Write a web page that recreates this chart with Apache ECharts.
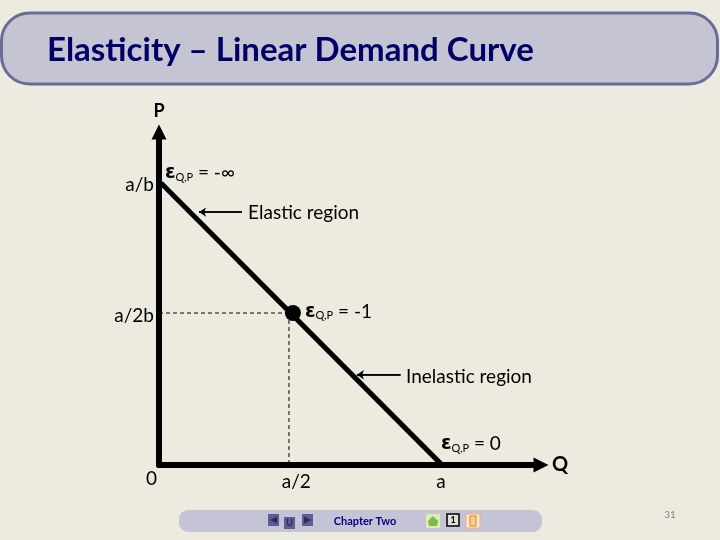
<!DOCTYPE html>
<html lang="en">
<head>
    <meta charset="UTF-8">
    <title>Elasticity</title>
    <script src="https://cdn.jsdelivr.net/npm/echarts@6/dist/echarts.min.js"></script>
    <style>
        html,body{margin:0;padding:0;background:#edebe0;}
        #main{width:720px;height:540px;}
    </style>
</head>
<body>
<div id="main"></div>
<script>
    var FONT='Lato';
    var titleText='Elasticity – Linear Demand Curve';
    var footerText='Chapter Two';
    var pageNumber='31';

    //x: 1 = a, y: 1 = a/b
    var demandCurve=[[0.007,1],[1,0.004]];
    var midPoint=[0.475,0.539];
    var dashToP=[[0,0.539],[0.475,0.539]];
    var dashToQ=[[0.461,0.539],[0.461,0]];
    var xTickValues=[0.487,1];
    var xTickLabels=['a/2','a'];
    var yTickValues=[0.993,0.529];
    var yTickLabels=['a/b','a/2b'];
    var elasticArrow=[[0.294,0.897],[0.142,0.897]];
    var inelasticArrow=[[0.857,0.32],[0.702,0.32]];
    var notes=[
        [0.021,1.035,'{e|ε}{s|Q,P}{t| = -∞}'],
        [0.316,0.894,'{t|Elastic region}'],
        [0.518,0.543,'{e|ε}{s|Q,P}{t| = -1}'],
        [0.876,0.312,'{t|Inelastic region}'],
        [1.0,0.074,'{e|ε}{s|Q,P}{t| = 0}'],
        [-0.046,-0.05,'{t|0}']
    ];

    var chart=echarts.init(document.getElementById('main'));

    function tickFormatter(values,labels){
        return function(v){
            return labels[values.indexOf(v)];
        };
    }

    var option={
        backgroundColor:'#edebe0',
        animation:false,
        textStyle:{fontFamily:FONT},
        grid:{left:159,top:132,width:382,height:333},
        xAxis:{
            type:'value',min:0,max:1.355,
            name:'Q',nameLocation:'end',nameGap:11,
            nameTextStyle:{color:'#000',fontSize:20,fontWeight:'bold',fontFamily:FONT,verticalAlign:'middle',padding:[6,0,0,0]},
            axisLine:{show:true,symbol:['none','triangle'],symbolSize:[15,15],lineStyle:{color:'#000',width:6}},
            axisTick:{show:false},
            splitLine:{show:false},
            axisLabel:{
                customValues:xTickValues,margin:7,color:'#000',fontSize:19,fontFamily:FONT,
                formatter:tickFormatter(xTickValues,xTickLabels)
            }
        },
        yAxis:{
            type:'value',min:0,max:1.181,
            name:'P',nameLocation:'end',nameGap:12,
            nameTextStyle:{color:'#000',fontSize:18,fontWeight:'bold',fontFamily:FONT},
            axisLine:{show:true,symbol:['none','triangle'],symbolSize:[15,15],lineStyle:{color:'#000',width:6}},
            axisTick:{show:false},
            splitLine:{show:false},
            axisLabel:{
                customValues:yTickValues,margin:5,color:'#000',fontSize:19,fontFamily:FONT,
                formatter:tickFormatter(yTickValues,yTickLabels)
            }
        },
        series:[
            {
                type:'line',data:dashToP,symbol:'none',
                lineStyle:{color:'#000',width:1,type:[4,3]}
            },
            {
                type:'line',data:dashToQ,symbol:'none',
                lineStyle:{color:'#000',width:1,type:[4,3]}
            },
            {
                type:'line',data:demandCurve,symbol:'none',z:3,
                lineStyle:{color:'#000',width:5}
            },
            {
                type:'scatter',data:[midPoint],symbolSize:16,z:4,
                itemStyle:{color:'#000',opacity:1}
            },
            {
                type:'line',data:elasticArrow,symbol:'none',
                lineStyle:{color:'#000',width:1.5},
                markLine:{silent:true,symbol:['none','arrow'],symbolSize:7,label:{show:false},
                    lineStyle:{color:'#000',width:1.5,type:'solid'},
                    data:[[{coord:elasticArrow[0]},{coord:elasticArrow[1]}]]}
            },
            {
                type:'line',data:inelasticArrow,symbol:'none',
                lineStyle:{color:'#000',width:1.5},
                markLine:{silent:true,symbol:['none','arrow'],symbolSize:7,label:{show:false},
                    lineStyle:{color:'#000',width:1.5,type:'solid'},
                    data:[[{coord:inelasticArrow[0]},{coord:inelasticArrow[1]}]]}
            },
            {
                type:'scatter',data:notes,symbolSize:0,clip:false,z:5,
                itemStyle:{opacity:1},
                label:{
                    show:true,position:'right',distance:0,opacity:1,color:'#000',
                    formatter:function(p){return p.data[2];},
                    rich:{
                        t:{color:'#000',fontSize:19,fontFamily:FONT},
                        e:{color:'#000',fontSize:19,fontWeight:'bold',fontFamily:'DejaVu Sans'},
                        s:{color:'#000',fontSize:11,fontFamily:FONT,verticalAlign:'bottom',padding:[7,0,0,0]}
                    }
                }
            }
        ],
        graphic:[
            //标题栏
            {type:'rect',z:-1,shape:{x:1.5,y:13,width:716,height:71,r:28},
                style:{fill:'#c5c4d2',stroke:'#6b6b99',lineWidth:3}},
            {type:'text',x:47,y:50,style:{text:titleText,fill:'#000066',font:'bold 33px '+FONT,textVerticalAlign:'middle'}},
            //底部导航栏
            {type:'rect',z:-1,shape:{x:179,y:510,width:363,height:22,r:9},style:{fill:'#c5c4d6'}},
            {type:'rect',shape:{x:268,y:514,width:11,height:12},style:{fill:'#5d5d93'}},
            {type:'rect',shape:{x:284,y:517,width:11,height:12},style:{fill:'#5d5d93'}},
            {type:'rect',shape:{x:302,y:514,width:11,height:12},style:{fill:'#5d5d93'}},
            {type:'polygon',shape:{points:[[270,520],[277,516.5],[277,523.5]]},style:{fill:'#2b2b55'}},
            {type:'polygon',shape:{points:[[311,520],[304,516.5],[304,523.5]]},style:{fill:'#2b2b55'}},
            {type:'text',x:289.5,y:523,style:{text:'U',fill:'#2b2b55',font:'bold 9px '+FONT,textAlign:'center',textVerticalAlign:'middle'}},
            {type:'text',x:365,y:521,style:{text:footerText,fill:'#000080',font:'bold 11px '+FONT,textAlign:'center',textVerticalAlign:'middle'}},
            {type:'rect',shape:{x:426,y:514,width:14,height:14},style:{fill:'#d9f0b0'}},
            {type:'polygon',shape:{points:[[433,516],[438,521],[437,526],[429,526],[428,521]]},style:{fill:'#7fb850'}},
            {type:'rect',shape:{x:447,y:514,width:12,height:12},style:{fill:'#e0e0d8',stroke:'#000',lineWidth:1.5}},
            {type:'text',x:453,y:520,style:{text:'1',fill:'#000',font:'bold 9px '+FONT,textAlign:'center',textVerticalAlign:'middle'}},
            {type:'rect',shape:{x:466,y:514,width:14,height:14},style:{fill:'#fbe8d0',stroke:'#f0b070',lineWidth:1}},
            {type:'rect',shape:{x:470,y:516,width:6,height:10},style:{fill:'#f5d090',stroke:'#d98020',lineWidth:1}},
            //页码
            {type:'text',x:670,y:515,style:{text:pageNumber,fill:'#808080',font:'10px '+FONT,textAlign:'center',textVerticalAlign:'middle'}}
        ]
    };
    chart.setOption(option);
</script>
</body>
</html>
